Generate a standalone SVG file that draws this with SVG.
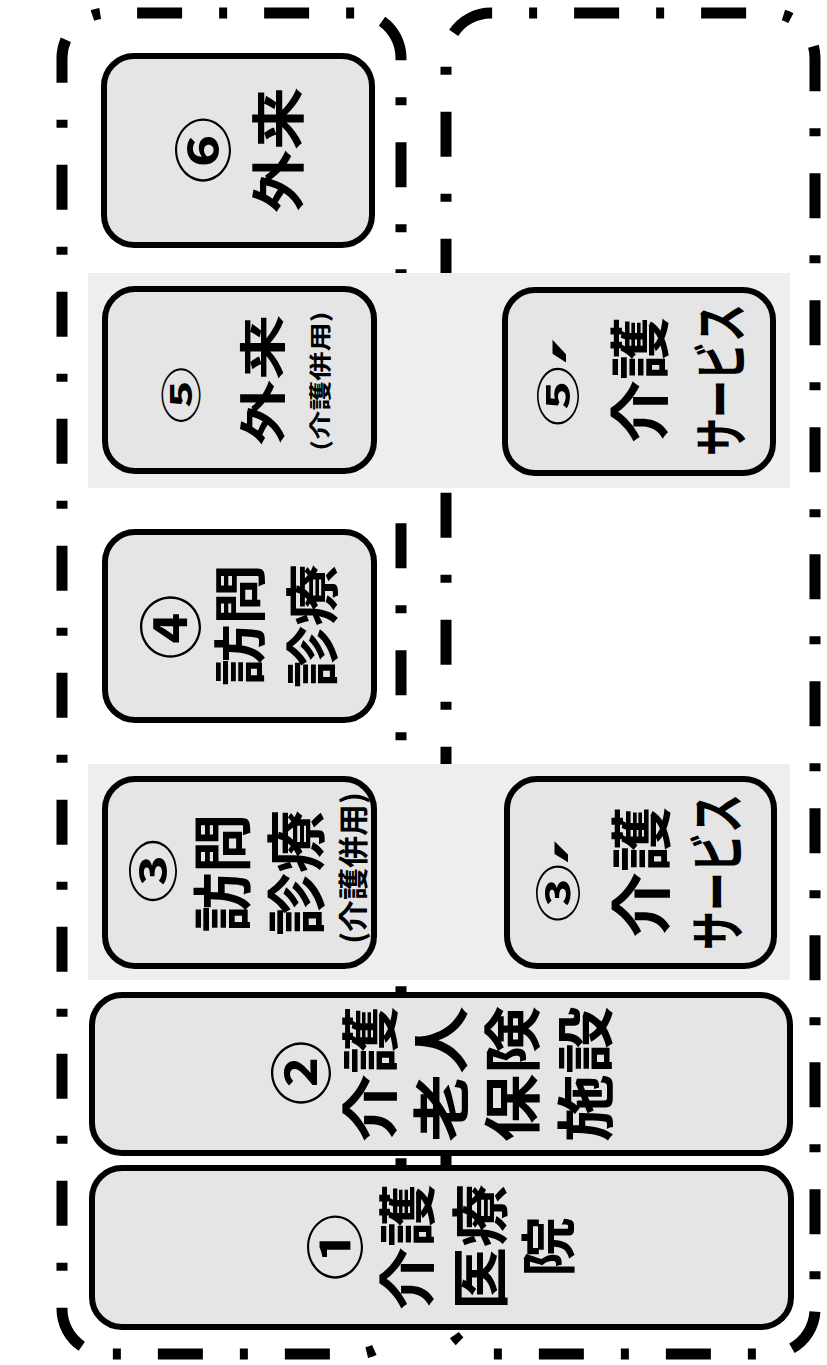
<svg xmlns="http://www.w3.org/2000/svg" width="827" height="1365" viewBox="0 0 827 1365">
<style>
.reg{fill:none;stroke:#000;stroke-width:11;stroke-dasharray:45 37 8 37;stroke-linecap:butt}
.band{fill:#eeeeee}
.box{fill:#e5e5e5;stroke:#000;stroke-width:6}
.t{font-family:'Noto Sans CJK JP','Noto Sans CJK SC',sans-serif;font-weight:700;fill:#000;text-anchor:middle}
.p{font-family:'DejaVu Sans',sans-serif;font-weight:700}
</style>
<rect width="827" height="1365" fill="#fff"/>
<g id="region-left">
<path class="reg" stroke-dashoffset="26.3" d="M62,58 A45,45 0 0 1 107,13 L356,13"/>
<path class="reg" stroke-dashoffset="99.3" d="M356,13 A45,45 0 0 1 401,58 L401,1309"/>
<path class="reg" stroke-dashoffset="30.3" d="M401,1309 A45,45 0 0 1 356,1354 L107,1354"/>
<path class="reg" stroke-dashoffset="100.3" d="M107,1354 A45,45 0 0 1 62,1309 L62,58"/>
</g>
<g id="region-right">
<path class="reg" stroke-dashoffset="100.3" d="M446,58 A45,45 0 0 1 491,13 L770,13"/>
<path class="reg" stroke-dashoffset="68.3" d="M770,13 A45,45 0 0 1 815,58 L815,1309"/>
<path class="reg" stroke-dashoffset="124.3" d="M815,1309 A45,45 0 0 1 770,1354 L491,1354"/>
<path class="reg" stroke-dashoffset="47.3" d="M491,1354 A45,45 0 0 1 446,1309 L446,58"/>
</g>
<g id="bands">
<rect class="band" x="88" y="273" width="702" height="215"/>
<rect class="band" x="88" y="764" width="702" height="216"/>
</g>
<g id="connectors"></g>
<g id="node6">
<rect class="box" x="104" y="56" width="268" height="189" rx="30"/>
<text class="t" transform="translate(203,150) rotate(-90)" y="22" font-size="58" textLength="67" lengthAdjust="spacingAndGlyphs">⑥</text>
<text class="t" transform="translate(278,150) rotate(-90)" y="20.5" font-size="54" textLength="126" lengthAdjust="spacingAndGlyphs">外来</text>
</g>
<g id="node5">
<rect class="box" x="105" y="289" width="269" height="182" rx="30"/>
<text class="t" transform="translate(181,395) rotate(-90)" y="15.2" font-size="40" textLength="57" lengthAdjust="spacingAndGlyphs">⑤</text>
<text class="t" transform="translate(262,380) rotate(-90)" y="17.9" font-size="47" textLength="131" lengthAdjust="spacingAndGlyphs">外来</text>
<text class="t" transform="translate(320,381) rotate(-90)" y="8.4" font-size="22" textLength="140" lengthAdjust="spacingAndGlyphs">(介護併用)</text>
</g>
<g id="node4">
<rect class="box" x="105" y="532" width="269" height="188" rx="30"/>
<text class="t" transform="translate(170,627) rotate(-90)" y="23.9" font-size="63" textLength="65" lengthAdjust="spacingAndGlyphs">④</text>
<text class="t" transform="translate(240,625) rotate(-90)" y="20.1" font-size="53" textLength="122" lengthAdjust="spacingAndGlyphs">訪問</text>
<text class="t" transform="translate(312,626) rotate(-90)" y="20.5" font-size="54" textLength="124" lengthAdjust="spacingAndGlyphs">診療</text>
</g>
<g id="node3">
<rect class="box" x="105" y="779" width="269" height="187" rx="30"/>
<text class="t" transform="translate(153,871) rotate(-90)" y="19" font-size="50" textLength="64" lengthAdjust="spacingAndGlyphs">③</text>
<text class="t" transform="translate(222,873) rotate(-90)" y="22.8" font-size="60" textLength="119" lengthAdjust="spacingAndGlyphs">訪問</text>
<text class="t" transform="translate(296,873) rotate(-90)" y="22.8" font-size="60" textLength="126" lengthAdjust="spacingAndGlyphs">診療</text>
<text class="t" transform="translate(353,868) rotate(-90)" y="11.4" font-size="30" textLength="152" lengthAdjust="spacingAndGlyphs">(介護併用)</text>
</g>
<g id="node5b">
<rect class="box" x="505" y="290" width="268" height="183" rx="30"/>
<text class="t" transform="translate(558,396) rotate(-90) scale(1.37,1)" font-size="44"><tspan x="0" y="16.7">⑤</tspan><tspan class="p" x="32.8" y="49" font-size="75">′</tspan></text>
<text class="t" transform="translate(640,380) rotate(-90)" y="23.2" font-size="61" textLength="126" lengthAdjust="spacingAndGlyphs">介護</text>
<text class="t" transform="translate(720,380) rotate(-90)" y="20.9" font-size="55" textLength="152" lengthAdjust="spacingAndGlyphs">サービス</text>
</g>
<g id="node3b">
<rect class="box" x="507" y="779" width="267" height="187" rx="30"/>
<text class="t" transform="translate(557,893) rotate(-90) scale(1.27,1)" font-size="46"><tspan x="0" y="17.5">③</tspan><tspan class="p" x="32.7" y="52" font-size="75">′</tspan></text>
<text class="t" transform="translate(641,872) rotate(-90)" y="23.6" font-size="62" textLength="131" lengthAdjust="spacingAndGlyphs">介護</text>
<text class="t" transform="translate(717,872) rotate(-90)" y="21.3" font-size="56" textLength="156" lengthAdjust="spacingAndGlyphs">サービス</text>
</g>
<g id="node2">
<rect class="box" x="92" y="995" width="698" height="158" rx="30"/>
<text class="t" transform="translate(301,1073) rotate(-90)" y="23.6" font-size="62" textLength="65" lengthAdjust="spacingAndGlyphs">②</text>
<text class="t" transform="translate(370,1074) rotate(-90)" y="22" font-size="58" textLength="136" lengthAdjust="spacingAndGlyphs">介護</text>
<text class="t" transform="translate(441,1074) rotate(-90)" y="22" font-size="58" textLength="136" lengthAdjust="spacingAndGlyphs">老人</text>
<text class="t" transform="translate(512,1074) rotate(-90)" y="22" font-size="58" textLength="136" lengthAdjust="spacingAndGlyphs">保険</text>
<text class="t" transform="translate(585,1074) rotate(-90)" y="22" font-size="58" textLength="136" lengthAdjust="spacingAndGlyphs">施設</text>
</g>
<g id="node1">
<rect class="box" x="92" y="1168" width="699" height="159" rx="30"/>
<text class="t" transform="translate(335,1247) rotate(-90)" y="22" font-size="58" textLength="67" lengthAdjust="spacingAndGlyphs">①</text>
<text class="t" transform="translate(407,1247) rotate(-90)" y="22" font-size="58" textLength="126" lengthAdjust="spacingAndGlyphs">介護</text>
<text class="t" transform="translate(480,1247) rotate(-90)" y="22" font-size="58" textLength="126" lengthAdjust="spacingAndGlyphs">医療</text>
<text class="t" transform="translate(548,1247) rotate(-90)" y="21.3" font-size="56" textLength="60" lengthAdjust="spacingAndGlyphs">院</text>
</g>
</svg>
